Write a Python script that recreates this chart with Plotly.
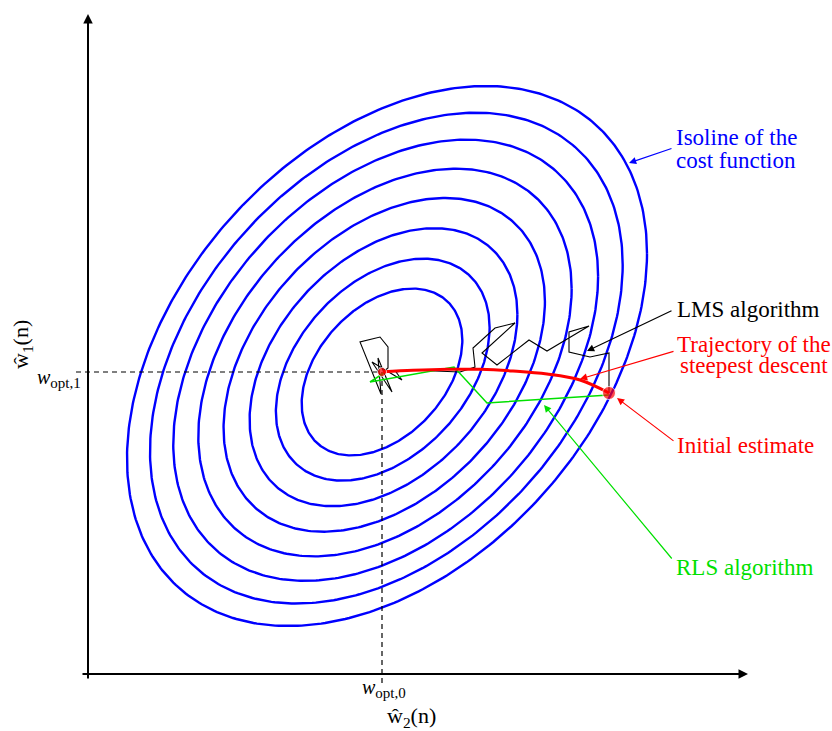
import numpy as np
import plotly.graph_objects as go

# ---------------- data (schematic units: origin at axis crossing) ----------------
# cost-function isolines: scale factors of one rotated ellipse
iso_scales = [0.309, 0.411, 0.515, 0.618, 0.718, 0.817, 0.909, 1.0]
iso_center_inner = (294, 302)
iso_center_outer = (299, 318)
iso_semi_w2 = 260      # horizontal half-extent of outer isoline
iso_semi_w1 = 270      # vertical half-extent of outer isoline
iso_corr = 0.38        # tilt (correlation)

w_opt = (294, 302)      # optimum (w_opt,0 , w_opt,1)
w_init = (521, 281)     # initial estimate

# steepest descent trajectory
sd_w2 = [521, 492, 459, 425, 392, 359, 325, 295]
sd_w1 = [281, 294, 300, 303, 304.7, 304.7, 303.7, 302.3]

# RLS trajectory
rls_w2 = [521, 399, 366, 282, 296]
rls_w1 = [279, 271, 307, 292, 301]

# LMS trajectory
lms_w2 = [521, 521, 502, 481, 481, 501, 459, 441, 409, 394, 427, 407, 385, 387, 372, 322,
          308, 314, 284, 304, 290, 293, 272, 292, 300, 300, 295]
lms_w1 = [281, 321, 317, 322, 342, 348, 323, 334, 309, 321, 351, 346, 326, 307, 302, 304,
          302, 294, 312, 282, 316, 280, 332, 337, 327, 306, 302]

BLUE, RED, GREEN, BLACK = "#0000ff", "#ff0000", "#00e000", "#000000"
FONT = "Liberation Serif"

fig = go.Figure()

# isolines
t = np.linspace(0, 2 * np.pi, 400)
s0, s1 = iso_scales[0], iso_scales[-1]
for s in iso_scales:
    f = (s - s0) / (s1 - s0)
    cx = iso_center_inner[0] + f * (iso_center_outer[0] - iso_center_inner[0])
    cy = iso_center_inner[1] + f * (iso_center_outer[1] - iso_center_inner[1])
    x = cx + s * iso_semi_w2 * np.cos(t)
    y = cy + s * iso_semi_w1 * (iso_corr * np.cos(t) + np.sqrt(1 - iso_corr ** 2) * np.sin(t))
    fig.add_trace(go.Scatter(x=x, y=y, mode="lines", line=dict(color=BLUE, width=2.4),
                             hoverinfo="skip", showlegend=False))

# dashed guide lines to the optimum
fig.add_trace(go.Scatter(x=[-12, w_opt[0]], y=[w_opt[1], w_opt[1]], mode="lines",
                         line=dict(color=BLACK, width=1.2, dash="5px,4px"), showlegend=False))
fig.add_trace(go.Scatter(x=[w_opt[0], w_opt[0]], y=[w_opt[1], -10], mode="lines",
                         line=dict(color=BLACK, width=1.2, dash="5px,4px"), showlegend=False))

# trajectories
fig.add_trace(go.Scatter(x=lms_w2, y=lms_w1, mode="lines", line=dict(color=BLACK, width=1.1),
                         showlegend=False))
fig.add_trace(go.Scatter(x=rls_w2, y=rls_w1, mode="lines", line=dict(color=GREEN, width=1.5),
                         showlegend=False))
fig.add_trace(go.Scatter(x=sd_w2, y=sd_w1, mode="lines",
                         line=dict(color=RED, width=3, shape="spline", smoothing=1.0),
                         showlegend=False))
fig.add_trace(go.Scatter(x=[w_init[0], w_opt[0]], y=[w_init[1], w_opt[1]], mode="markers",
                         marker=dict(color=RED, size=[13, 9]), showlegend=False))

# axes with arrows
def arrow(tip, tail, color, width, size):
    fig.add_annotation(x=tip[0], y=tip[1], ax=tail[0], ay=tail[1], xref="x", yref="y",
                       axref="x", ayref="y", text="", showarrow=True, arrowhead=2,
                       arrowsize=size, arrowwidth=width, arrowcolor=color)

arrow((0, 660), (0, -6), BLACK, 2, 0.95)
arrow((660, 0), (-7, 0), BLACK, 2, 0.95)

# callout arrows
arrow((541, 511), (585, 526), BLUE, 1.2, 1.2)
arrow((499, 323), (585, 364), BLACK, 1.2, 1.2)
arrow((492, 295), (587, 323), RED, 1.2, 1.2)
arrow((529, 276), (587, 232), RED, 1.2, 1.2)
arrow((456, 269), (585, 114), GREEN, 1.2, 1.2)

def label(x, y, text, color, size=23, xanchor="left", angle=0):
    fig.add_annotation(x=x, y=y, xref="x", yref="y", text=text, showarrow=False,
                       xanchor=xanchor, yanchor="middle", textangle=angle,
                       font=dict(family=FONT, size=size, color=color))

label(586, 537, "Isoline of the", BLUE)
label(586, 514, "cost function", BLUE)
label(587, 365, "LMS algorithm", BLACK)
label(666, 330, "Trajectory of the", RED, xanchor="center")
label(666, 309, "steepest descent", RED, xanchor="center")
label(587, 229, "Initial estimate", RED)
label(586, 107, "RLS algorithm", GREEN)

# axis labels
label(-5, 296, "<i>w</i><sub><span style='font-size:15px'>opt,1</span></sub>", BLACK,
      size=20, xanchor="right")
label(296, -14, "<i>w</i><sub><span style='font-size:15px'>opt,0</span></sub>", BLACK,
      size=20, xanchor="center")
label(323, -43, "ŵ<sub>2</sub>(n)", BLACK, size=22, xanchor="center")
label(-66, 329, "ŵ<sub>1</sub>(n)", BLACK, size=22, xanchor="center", angle=-90)

fig.update_layout(
    width=832, height=731, margin=dict(l=0, r=0, t=0, b=0),
    paper_bgcolor="white", plot_bgcolor="white",
    xaxis=dict(range=[-88, 744], visible=False, fixedrange=True),
    yaxis=dict(range=[-57, 674], visible=False, fixedrange=True),
    showlegend=False,
)

fig.write_html("out.html")
